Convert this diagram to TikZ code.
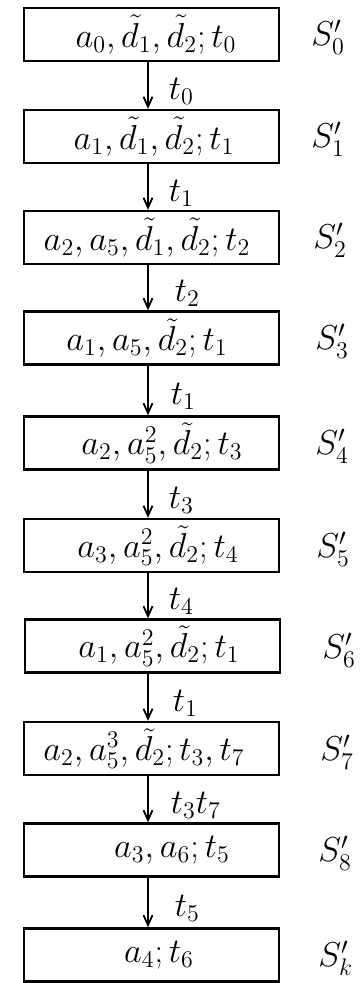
\documentclass[tikz,border=0pt]{standalone}
\usetikzlibrary{arrows.meta}
\begin{document}
\begin{tikzpicture}[x=0.5pt,y=-0.5pt,
  stbox/.style={draw, line width=1.15pt, minimum width=127.5pt, minimum height=26.5pt, inner sep=0pt, font=\fontsize{18.3}{21}\selectfont},
  lbl/.style={font=\fontsize{17.5}{20}\selectfont, inner sep=0pt},
  flow/.style={-{Straight Barb[length=5pt,width=4.5pt]}, line width=0.9pt},
  elbl/.style={lbl, anchor=west, xshift=10pt, yshift=-3pt}]
\useasboundingbox (0,0) rectangle (360,983);
\coordinate (ax) at (148,0);
\node[stbox] (b0) at (151.5,34.5) {\hspace*{4.5pt}$a_0,\tilde d_1,\tilde d_2;t_0$};
\node[stbox] (b1) at (151.5,136.5) {\hspace*{2.5pt}$a_1,\tilde d_1,\tilde d_2;t_1$};
\node[stbox] (b2) at (151.5,237.5) {$a_2,a_5,\tilde d_1,\tilde d_2;t_2$\hspace*{4.5pt}};
\node[stbox] (b3) at (151.5,338) {$a_1,a_5,\tilde d_2;t_1$\hspace*{4.5pt}};
\node[stbox] (b4) at (151.5,443) {\hspace*{10.5pt}$a_2,a_5^2,\tilde d_2;t_3$};
\node[stbox] (b5) at (151.5,545.5) {\hspace*{6.5pt}$a_3,a_5^2,\tilde d_2;t_4$};
\node[stbox] (b6) at (152.5,646) {\hspace*{6.5pt}$a_1,a_5^2,\tilde d_2;t_1$};
\node[stbox] (b7) at (151.5,748.5) {$a_2,a_5^3,\tilde d_2;t_3,t_7$\hspace*{7.5pt}};
\node[stbox] (b8) at (151.5,850) {\hspace*{20.5pt}$a_3,a_6;t_5$};
\node[stbox] (b9) at (151.5,955) {\hspace*{7.5pt}$a_4;t_6$};
\draw[flow] (b0.south -| ax) -- node[elbl] {$t_0$} (b1.north -| ax);
\draw[flow] (b1.south -| ax) -- node[elbl] {$t_1$} (b2.north -| ax);
\draw[flow] (b2.south -| ax) -- node[elbl, xshift=3pt] {$t_2$} (b3.north -| ax);
\draw[flow] (b3.south -| ax) -- node[elbl, xshift=1pt] {$t_1$} (b4.north -| ax);
\draw[flow] (b4.south -| ax) -- node[elbl] {$t_3$} (b5.north -| ax);
\draw[flow] (b5.south -| ax) -- node[elbl] {$t_4$} (b6.north -| ax);
\draw[flow] (b6.south -| ax) -- node[elbl, xshift=2pt] {$t_1$} (b7.north -| ax);
\draw[flow] (b7.south -| ax) -- node[elbl, xshift=1pt] {$t_3t_7$} (b8.north -| ax);
\draw[flow] (b8.south -| ax) -- node[elbl, xshift=3pt] {$t_5$} (b9.north -| ax);
\node[lbl, anchor=west] (s0) at (311,37) {$S'_0$};
\node[lbl, anchor=west] (s1) at (311,139) {$S'_1$};
\node[lbl, anchor=west] (s2) at (313,240) {$S'_2$};
\node[lbl, anchor=west] (s3) at (315,341) {$S'_3$};
\node[lbl, anchor=west] (s4) at (315,446) {$S'_4$};
\node[lbl, anchor=west] (s5) at (316,549) {$S'_5$};
\node[lbl, anchor=west] (s6) at (322,650) {$S'_6$};
\node[lbl, anchor=west] (s7) at (320,752) {$S'_7$};
\node[lbl, anchor=west] (s8) at (318,853) {$S'_8$};
\node[lbl, anchor=west] (s9) at (318,958) {$S'_k$};
\end{tikzpicture}
\end{document}
